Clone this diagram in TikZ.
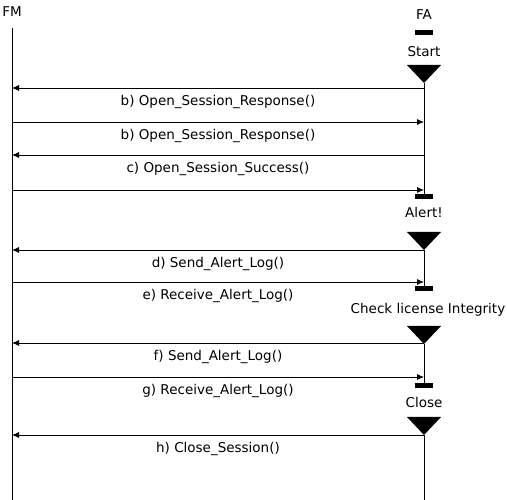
\documentclass[tikz,border=0pt]{standalone}
\usepackage{fontspec}
\setmainfont{DejaVu Sans}
\usetikzlibrary{arrows.meta}

\begin{document}
\begin{tikzpicture}
    [x=1pt,y=-1pt,line width=0.8pt,every node/.style={font=\fontsize{13.5}{16}\selectfont, inner sep=0pt},
     msg/.style={-{Latex[length=7pt,width=6pt]}},
     evbar/.style={fill=black, minimum width=18pt, minimum height=5pt}]
  \useasboundingbox (0,0) rectangle (507,500);

  \node (fm) at (12,12) {FM};
  \node (fa) at (424,15) {FA};

  % events on FA
  \node[evbar] (startbar) at (424,33) {};
  \node[evbar] (alertbar) at (424,197) {};
  \node[evbar] (checkbar) at (424,289) {};
  \node[evbar] (closebar) at (424,386) {};
  \node (start) at (424,52) {Start};
  \node (alert) at (424,212) {Alert!};
  \node (check) at (428,310) {Check license Integrity};
  \node (close) at (424,402) {Close};

  \foreach \i/\y in {1/65, 2/232, 3/326, 4/417}{
    \fill (407,\y) -- (441,\y) -- (424,\y+18) -- cycle;
    \coordinate (tri\i) at (424,\y+18);
  }

  % lifelines
  \coordinate (fmtop) at (12,28);
  \coordinate (fmbot) at (12,500);
  \coordinate (fabot) at (424,500);
  \draw (fmtop) -- (fmbot);
  \foreach \from/\to in {tri1/alertbar.north, tri2/checkbar.north, tri3/closebar.north, tri4/fabot}
    \draw (\from) -- (\to);

  % messages
  \foreach \i/\y in {1/88, 2/122, 3/155, 4/190, 5/250, 6/282, 7/343, 8/377, 9/435}{
    \coordinate (fm\i) at (12,\y);
    \coordinate (fa\i) at (424,\y);
  }
  \foreach \from/\to/\txt in {fa1/fm1/{b) Open\_Session\_Response()}, fm2/fa2/{b) Open\_Session\_Response()},
      fa3/fm3/{c) Open\_Session\_Success()}, fm4/fa4/{}, fa5/fm5/{d) Send\_Alert\_Log()},
      fm6/fa6/{e) Receive\_Alert\_Log()}, fa7/fm7/{f) Send\_Alert\_Log()},
      fm8/fa8/{g) Receive\_Alert\_Log()}, fa9/fm9/{h) Close\_Session()}}
    \draw[msg] (\from) -- (\to) node[midway, below=7pt] {\txt};
\end{tikzpicture}
\end{document}
